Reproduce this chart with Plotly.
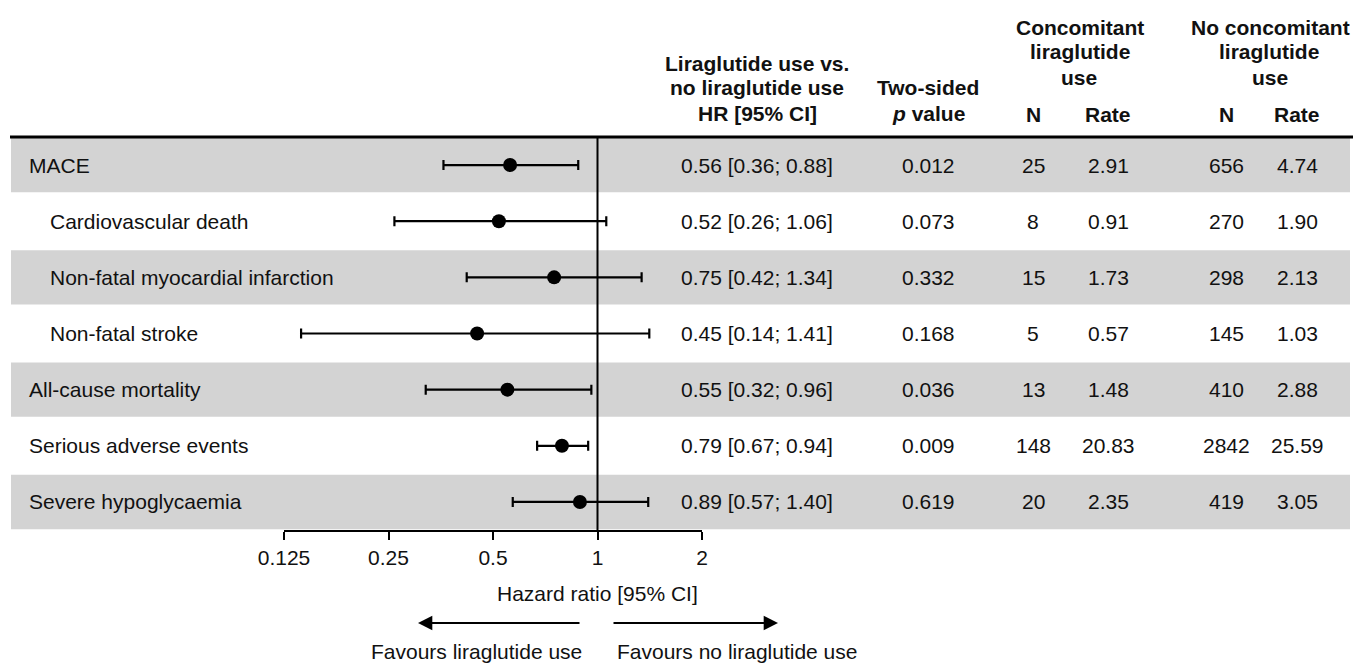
import plotly.graph_objects as go

outcomes = ["MACE", "Cardiovascular death", "Non-fatal myocardial infarction", "Non-fatal stroke",
            "All-cause mortality", "Serious adverse events", "Severe hypoglycaemia"]
indent = [0, 1, 1, 1, 0, 0, 0]
hr = [0.56, 0.52, 0.75, 0.45, 0.55, 0.79, 0.89]
ci_lo = [0.36, 0.26, 0.42, 0.14, 0.32, 0.67, 0.57]
ci_hi = [0.88, 1.06, 1.34, 1.41, 0.96, 0.94, 1.40]
p_values = ["0.012", "0.073", "0.332", "0.168", "0.036", "0.009", "0.619"]
n_lira = ["25", "8", "15", "5", "13", "148", "20"]
rate_lira = ["2.91", "0.91", "1.73", "0.57", "1.48", "20.83", "2.35"]
n_nolira = ["656", "270", "298", "145", "410", "2842", "419"]
rate_nolira = ["4.74", "1.90", "2.13", "1.03", "2.88", "25.59", "3.05"]
tick_vals = [0.125, 0.25, 0.5, 1, 2]
tick_text = ["0.125", "0.25", "0.5", "1", "2"]

W, H = 1355, 663
FONT = "Liberation Sans, Arial, sans-serif"
TXT = "#111111"
FS = 21


def px(x):
    return x / W


def py(y):
    return 1 - y / H


rows = list(range(len(outcomes)))
hr_txt = [f"{h:.2f} [{l:.2f}; {u:.2f}]" for h, l, u in zip(hr, ci_lo, ci_hi)]

fig = go.Figure()
fig.add_trace(go.Scatter(
    x=hr, y=rows, mode="markers",
    marker=dict(size=14, color="black", symbol="circle"),
    error_x=dict(type="data", symmetric=False,
                 array=[u - h for h, u in zip(hr, ci_hi)],
                 arrayminus=[h - l for h, l in zip(hr, ci_lo)],
                 color="black", thickness=2.2, width=5),
    showlegend=False, hoverinfo="skip", cliponaxis=False,
))

shapes = []
# grey row bands
for i in rows:
    if i % 2 == 0:
        shapes.append(dict(type="rect", xref="paper", yref="y", x0=px(11), x1=px(1350),
                           y0=i - 0.485, y1=i + 0.485, fillcolor="#d3d3d3",
                           line=dict(width=0), layer="below"))
# header rule
shapes.append(dict(type="line", xref="paper", yref="paper", x0=px(10), x1=px(1353),
                   y0=py(137), y1=py(137), line=dict(color="black", width=3)))
# reference line at HR = 1
shapes.append(dict(type="line", xref="x", yref="paper", x0=1, x1=1,
                   y0=py(530), y1=py(138), line=dict(color="black", width=2)))

ann = []


def add_text(text, x, y, yref="paper", xanchor="center", bold=False, size=FS):
    ann.append(dict(text=f"<b>{text}</b>" if bold else text, x=x, y=y, xref="paper", yref=yref,
                    xanchor=xanchor, yanchor="middle", showarrow=False,
                    font=dict(family=FONT, size=size, color=TXT)))


# row labels and table values
col_x = dict(hr=757, p=928, n1=1033, r1=1108, n2=1226, r2=1297)
for i in rows:
    add_text(outcomes[i], px(48 if indent[i] else 27), i, yref="y", xanchor="left")
    add_text(hr_txt[i], px(col_x["hr"]), i, yref="y")
    add_text(p_values[i], px(col_x["p"]), i, yref="y")
    add_text(n_lira[i], px(col_x["n1"]), i, yref="y")
    add_text(rate_lira[i], px(col_x["r1"]), i, yref="y")
    add_text(n_nolira[i], px(col_x["n2"]), i, yref="y")
    add_text(rate_nolira[i], px(col_x["r2"]), i, yref="y")

# headers
add_text("Liraglutide use vs.", px(757), py(64), bold=True)
add_text("no liraglutide use", px(757), py(88), bold=True)
add_text("HR [95% CI]", px(757), py(113), bold=True)
add_text("Two-sided", px(928), py(88), bold=True)
add_text("<i>p</i> value", px(928), py(113), bold=True)
add_text("Concomitant", px(1080), py(28), bold=True)
add_text("liraglutide", px(1080), py(52), bold=True)
add_text("use", px(1079), py(77), bold=True)
add_text("No concomitant", px(1270), py(28), bold=True)
add_text("liraglutide", px(1269), py(52), bold=True)
add_text("use", px(1270), py(77), bold=True)
for key, lab in [("n1", "N"), ("r1", "Rate"), ("n2", "N"), ("r2", "Rate")]:
    add_text(lab, px(col_x[key]), py(114), bold=True)

# axis title and favours labels
add_text("Hazard ratio [95% CI]", px(597), py(593))
add_text("Favours liraglutide use", px(476), py(651))
add_text("Favours no liraglutide use", px(737), py(651))

# arrows
for x_head, x_tail in [(418, 581), (778, 612)]:
    ann.append(dict(text="", x=px(x_head), y=py(623), xref="paper", yref="paper",
                    ax=x_tail - x_head, ay=0, axref="pixel", ayref="pixel",
                    showarrow=True, arrowhead=2, arrowsize=1.3, arrowwidth=2.2,
                    arrowcolor="black"))

fig.update_layout(
    width=W, height=H, autosize=False,
    margin=dict(l=0, r=0, t=0, b=0, pad=0, autoexpand=False),
    paper_bgcolor="white", plot_bgcolor="rgba(0,0,0,0)",
    shapes=shapes, annotations=ann,
    xaxis=dict(type="log", domain=[px(284), px(702)],
               range=[-0.90309, 0.30103], automargin=False,
               tickvals=tick_vals, ticktext=tick_text,
               showline=True, linecolor="black", linewidth=2,
               ticks="outside", ticklen=8, tickwidth=2, tickcolor="black",
               tickfont=dict(family=FONT, size=FS, color=TXT),
               showgrid=False, zeroline=False, fixedrange=True),
    yaxis=dict(domain=[py(530), py(137)], range=[6.5, -0.5], automargin=False,
               showticklabels=False, showgrid=False, zeroline=False,
               showline=False, ticks="", fixedrange=True),
)

fig.write_html("out.html", config={"responsive": False, "displayModeBar": False},
               post_script="document.body.style.margin='0';document.body.style.overflow='hidden';")
